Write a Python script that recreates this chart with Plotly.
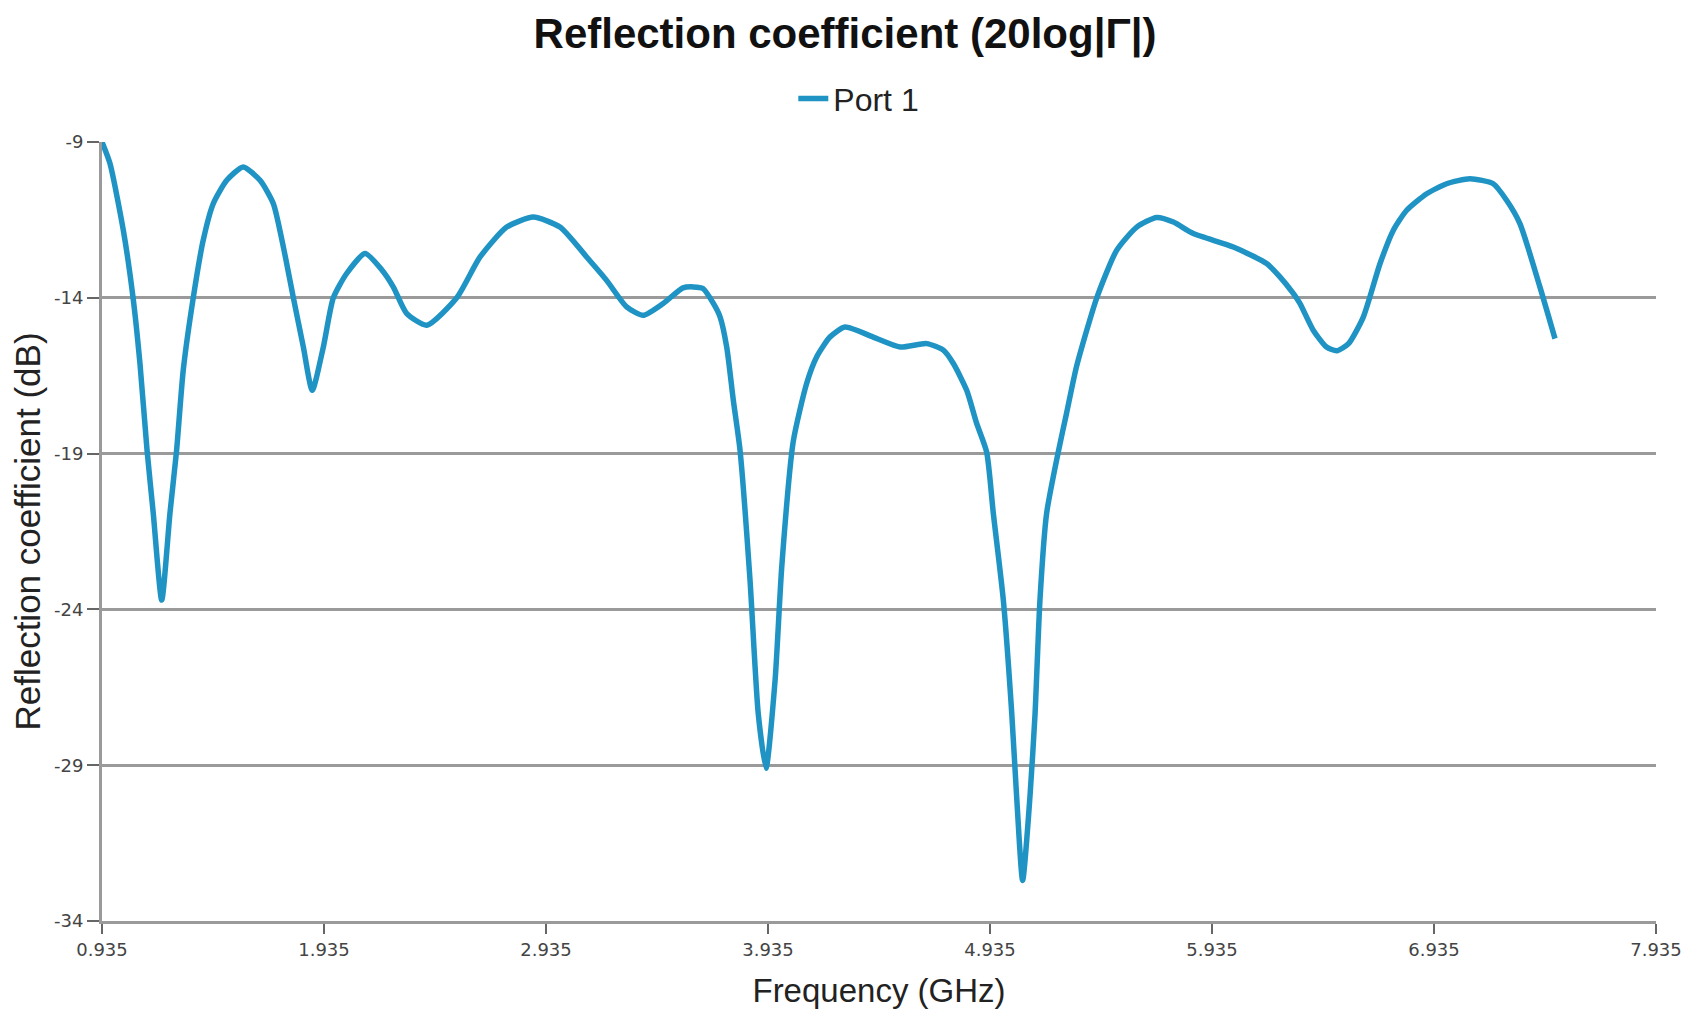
import plotly.graph_objects as go

freq_ghz = [0.935, 0.971, 1.031, 1.075, 1.106, 1.138, 1.166, 1.204, 1.241, 1.271,
            1.301, 1.346, 1.391, 1.436, 1.497, 1.571, 1.647, 1.707, 1.752, 1.797,
            1.842, 1.882, 1.932, 1.977, 2.037, 2.120, 2.195, 2.247, 2.307, 2.398,
            2.533, 2.638, 2.758, 2.878, 2.998, 3.118, 3.208, 3.298, 3.373, 3.463,
            3.552, 3.599, 3.642, 3.689, 3.719, 3.749, 3.779, 3.809, 3.854, 3.891,
            3.926, 3.967, 3.997, 4.049, 4.109, 4.154, 4.214, 4.282, 4.409, 4.530,
            4.650, 4.725, 4.770, 4.830, 4.875, 4.920, 4.950, 4.995, 5.033, 5.055,
            5.082, 5.115, 5.138, 5.160, 5.190, 5.241, 5.280, 5.325, 5.416, 5.506,
            5.596, 5.686, 5.761, 5.851, 6.031, 6.181, 6.241, 6.301, 6.331, 6.391,
            6.451, 6.497, 6.550, 6.617, 6.692, 6.752, 6.812, 6.902, 6.992, 7.097,
            7.202, 7.262, 7.322, 7.412, 7.480]
s11_db = [-9.0, -9.69, -11.83, -14.0, -16.11, -18.9, -20.92, -23.7, -20.92, -18.9,
          -16.32, -14.0, -12.15, -10.98, -10.23, -9.8, -10.23, -10.98, -12.37, -14.0,
          -15.58, -16.97, -15.58, -14.0, -13.22, -12.58, -13.1, -13.65, -14.5, -14.88,
          -14.0, -12.69, -11.73, -11.41, -11.73, -12.69, -13.44, -14.29, -14.56, -14.18,
          -13.68, -13.65, -13.7, -14.18, -14.61, -15.58, -17.3, -18.89, -23.06, -27.34,
          -29.1, -26.27, -22.63, -18.6, -16.75, -15.9, -15.26, -14.94, -15.26, -15.58,
          -15.47, -15.68, -16.11, -16.97, -18.03, -18.95, -20.92, -23.7, -27.34, -30.01,
          -32.7, -30.01, -27.34, -23.7, -20.92, -19.0, -17.7, -16.2, -14.0, -12.47,
          -11.73, -11.42, -11.57, -11.94, -12.37, -12.9, -13.33, -13.86, -14.18, -15.04,
          -15.58, -15.7, -15.47, -14.61, -12.9, -11.83, -11.19, -10.66, -10.34, -10.18,
          -10.34, -10.87, -11.62, -13.65, -15.31]

x_ticks = [0.935, 1.935, 2.935, 3.935, 4.935, 5.935, 6.935, 7.935]
y_ticks = [-34, -29, -24, -19, -14, -9]

fig = go.Figure()
fig.add_trace(go.Scatter(
    x=freq_ghz, y=s11_db, mode="lines", name="Port 1",
    line=dict(color="#1f94c4", width=5.5, shape="spline", smoothing=0.6),
))

fig.update_layout(
    width=1696, height=1010,
    paper_bgcolor="white", plot_bgcolor="white",
    margin=dict(l=94, r=48, t=134, b=97, autoexpand=False),
    title=dict(text="<b>Reflection coefficient (20log|Γ|)</b>",
               x=0.4935, xanchor="center", y=0.9745, yanchor="middle",
               font=dict(family="Liberation Sans, Arial", size=42, color="#111")),
    showlegend=True,
    legend=dict(orientation="h", x=0.487, xanchor="center", y=1.0556, yanchor="middle",
                font=dict(family="Liberation Sans, Arial", size=32, color="#222"),
                bgcolor="rgba(0,0,0,0)"),
    font=dict(family="DejaVu Sans", color="#444"),
)

fig.update_xaxes(
    range=[0.935, 7.935], tickvals=x_ticks, ticktext=[f"{v:.3f}" for v in x_ticks],
    showgrid=False, zeroline=False, automargin=False,
    showline=True, linecolor="#9a9a9a", linewidth=3,
    ticks="outside", ticklen=10, tickcolor="#666", tickwidth=2,
    tickfont=dict(family="DejaVu Sans", size=18, color="#444"),
    title=dict(text="Frequency (GHz)", standoff=21,
               font=dict(family="Liberation Sans, Arial", size=33, color="#222")),
)
fig.update_yaxes(
    range=[-34, -9], tickvals=y_ticks, ticktext=[str(v) for v in y_ticks],
    showgrid=True, gridcolor="#9a9a9a", gridwidth=3, zeroline=False, automargin=False,
    showline=True, linecolor="#9a9a9a", linewidth=3,
    ticks="outside", ticklen=12, tickcolor="#666", tickwidth=2,
    tickfont=dict(family="DejaVu Sans", size=18, color="#444"),
    title=dict(text="Reflection coefficient (dB)", standoff=4,
               font=dict(family="Liberation Sans, Arial", size=35, color="#222")),
)

fig.write_html("out.html")
